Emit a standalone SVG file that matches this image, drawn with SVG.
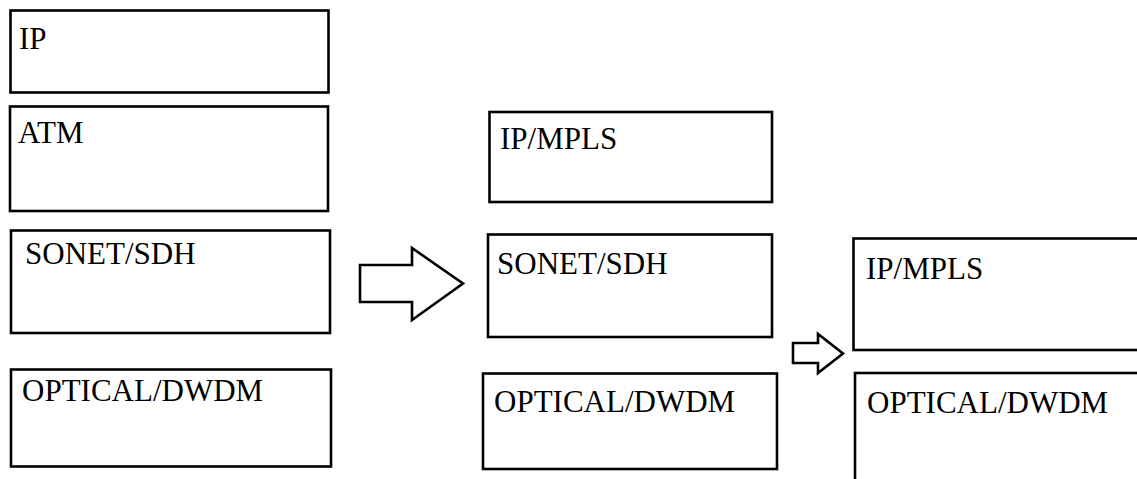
<svg xmlns="http://www.w3.org/2000/svg" width="1137" height="479" viewBox="0 0 1137 479">
<style>
.box{fill:#fff;stroke:#000;stroke-width:2.6}
.arr{fill:#fff;stroke:#000;stroke-width:2.6;stroke-linejoin:miter}
.t{font-family:'Liberation Serif','Times New Roman',Tinos,'DejaVu Serif',serif;font-size:31px;fill:#000}
</style>
<rect width="1137" height="479" fill="#fff"/>
<g id="ip-left"><rect class="box" x="10.5" y="10.5" width="318" height="82"/><text class="t" x="19" y="49">IP</text></g>
<g id="atm-left"><rect class="box" x="10" y="106.5" width="318" height="104.5"/><text class="t" x="18" y="143">ATM</text></g>
<g id="sonet-left"><rect class="box" x="11" y="230.5" width="319" height="102.5"/><text class="t" x="25" y="264">SONET/SDH</text></g>
<g id="optical-left"><rect class="box" x="11" y="369.5" width="320" height="97"/><text class="t" x="22" y="401">OPTICAL/DWDM</text></g>
<g id="ipmpls-mid"><rect class="box" x="489.5" y="112" width="282.5" height="90"/><text class="t" x="500" y="149">IP/MPLS</text></g>
<g id="sonet-mid"><rect class="box" x="488" y="234.5" width="284" height="102.5"/><text class="t" x="497" y="274">SONET/SDH</text></g>
<g id="optical-mid"><rect class="box" x="483" y="373.5" width="294" height="95.5"/><text class="t" x="494" y="412">OPTICAL/DWDM</text></g>
<g id="ipmpls-right"><rect class="box" x="853.5" y="238.5" width="300" height="111.5"/><text class="t" x="866" y="279">IP/MPLS</text></g>
<g id="optical-right"><rect class="box" x="855" y="373" width="300" height="130"/><text class="t" x="867" y="413">OPTICAL/DWDM</text></g>
<g id="connectors">
<polygon class="arr" points="360,265 412,265 412,248 463,283.5 412,320 412,302 360,302"/>
<polygon class="arr" points="793,343 818,343 818,334 843,353.5 818,373 818,363 793,363"/>
</g>
</svg>
